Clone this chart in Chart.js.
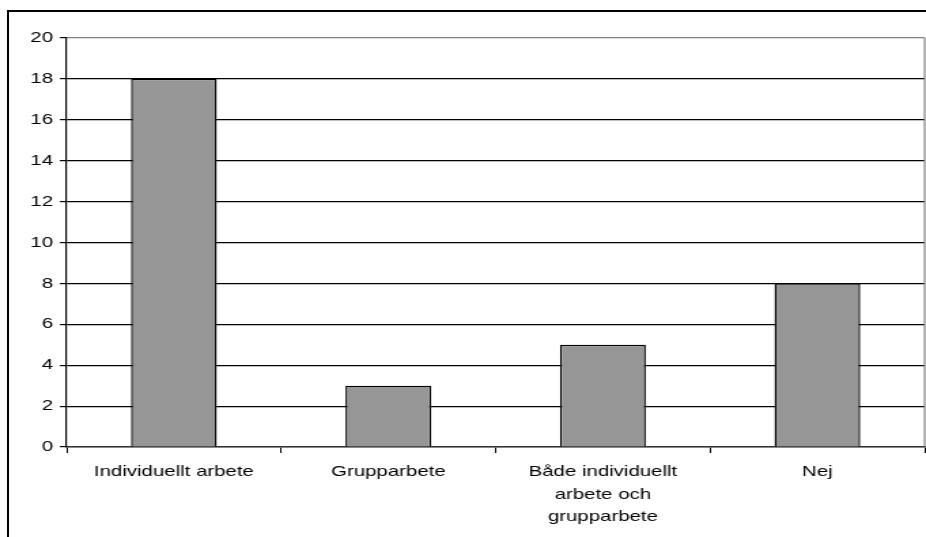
<!DOCTYPE html>
<html>
<head>
<meta charset="utf-8">
<script src="https://cdn.jsdelivr.net/npm/chart.js@4"></script>
<style>
  body { margin: 0; background: #fff; overflow: hidden; }
  #frame {
    position: absolute; left: 7px; top: 10px; width: 940px; height: 560px;
    border-top: 2px solid #000; border-left: 2px solid #000;
  }
  /* the reference is stretched sideways, so draw narrow and widen with CSS */
  #chart { position: absolute; left: 0; top: 0; width: 926px !important; height: 537px !important; }
</style>
</head>
<body>
<div id="frame"></div>
<canvas id="chart" width="681" height="537" style="width:926px;height:537px"></canvas>
<script>
// answers per category
const categories = [
    'Individuellt arbete',
    'Grupparbete',
    ['Både individuellt', 'arbete och', 'grupparbete'],
    'Nej'
];
const counts = [18, 3, 5, 8];
const yMax = 20;
const yStep = 2;

// grey right edge of the plot area
const plotBorder = {
    id: 'plotBorder',
    afterDraw(chart) {
        const a = chart.chartArea;
        const ctx = chart.ctx;
        ctx.save();
        ctx.strokeStyle = '#808080';
        ctx.lineWidth = 1.2;
        ctx.beginPath();
        ctx.moveTo(a.right, a.top);
        ctx.lineTo(a.right, a.bottom);
        ctx.stroke();
        ctx.restore();
    }
};

const ctx = document.getElementById('chart').getContext('2d');
new Chart(ctx, {
    type: 'bar',
    data: {
        labels: categories,
        datasets: [{
            data: counts,
            backgroundColor: '#969696',
            borderColor: '#000',
            borderWidth: 1.4,
            categoryPercentage: 1,
            barPercentage: 0.4
        }]
    },
    options: {
        responsive: false,
        animation: false,
        layout: { padding: { top: 38, right: 1, left: 0, bottom: 0 } },
        plugins: { legend: { display: false }, tooltip: { enabled: false } },
        scales: {
            x: {
                border: { color: '#333', width: 1.5 },
                grid: { drawOnChartArea: false, drawTicks: true, tickLength: 6, color: '#000', offset: true },
                ticks: {
                    color: '#000',
                    padding: 8,
                    maxRotation: 0,
                    font: { family: 'Liberation Sans', size: 15, lineHeight: 1.5 }
                },
                afterFit(scale) { scale.height = 90; }
            },
            y: {
                min: 0,
                max: yMax,
                border: { color: '#000', width: 1.2 },
                grid: {
                    color: c => (c.tick && (c.tick.value === yMax || c.tick.value === 0)) ? '#808080' : '#000',
                    tickColor: '#000',
                    tickLength: 5,
                    lineWidth: 1.2
                },
                ticks: {
                    stepSize: yStep,
                    color: '#000',
                    padding: 5,
                    font: { family: 'Liberation Sans', size: 15 }
                },
                afterFit(scale) { scale.width = 49; }
            }
        }
    },
    plugins: [plotBorder]
});
</script>
</body>
</html>
